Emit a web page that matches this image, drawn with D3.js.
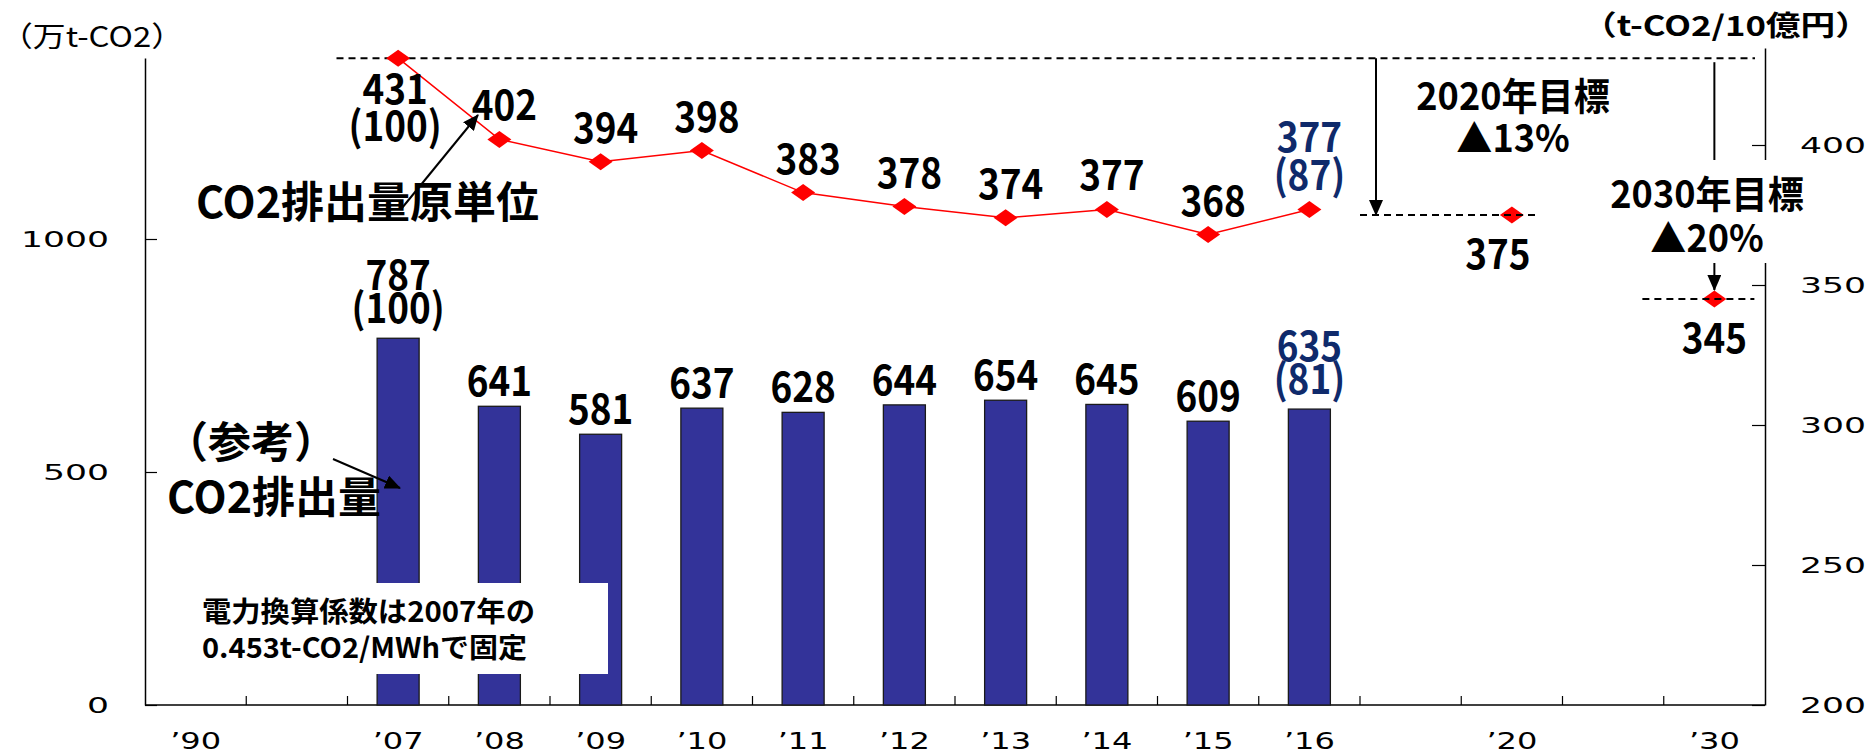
<!DOCTYPE html>
<html>
<head>
<meta charset="utf-8">
<script src="https://cdn.jsdelivr.net/npm/d3@7"></script>
<style>
  body { margin: 0; background: #fff; }
  svg { display: block; }
</style>
</head>
<body>
<div id="chart"></div>
<script>
// categories on the x axis (empty slots keep the gaps)
var years = ["1990", "gapA", "2007", "2008", "2009", "2010", "2011", "2012", "2013", "2014", "2015", "2016", "gapB", "2020", "gapC", "2030"];
var yearLabels = ["’90", "", "’07", "’08", "’09", "’10", "’11", "’12", "’13", "’14", "’15", "’16", "", "’20", "", "’30"];

// CO2 emissions (万t-CO2), bars
var emissionYears = ["2007", "2008", "2009", "2010", "2011", "2012", "2013", "2014", "2015", "2016"];
var emissions = [787, 641, 581, 637, 628, 644, 654, 645, 609, 635];

// CO2 intensity (t-CO2/10億円), line
var intensity = [431, 402, 394, 398, 383, 378, 374, 377, 368, 377];

// index values (2007 = 100)
var indexYears = ["2007", "2016"];
var emissionIndex = [100, 81];
var intensityIndex = [100, 87];

// targets
var targetYears = ["2020", "2030"];
var targets = [375, 345];
var targetNames = ["2020年目標", "2030年目標"];
var targetCuts = ["▲13%", "▲20%"];

var leftTicks = [0, 500, 1000];
var rightTicks = [200, 250, 300, 350, 400];

var width = 1872, height = 755;
var jp = "'Noto Sans CJK JP', sans-serif";
var barColor = "#333399", lineColor = "#ff0000", navy = "#0f2a6b";

var svg = d3.select("#chart")
  .append("svg")
    .attr("width", width)
    .attr("height", height);

var defs = svg.append("defs");
defs.append("marker")
    .attr("id", "head")
    .attr("markerUnits", "userSpaceOnUse")
    .attr("viewBox", "0 0 16 14")
    .attr("markerWidth", 16)
    .attr("markerHeight", 14)
    .attr("refX", 15)
    .attr("refY", 7)
    .attr("orient", "auto")
  .append("path")
    .attr("d", "M0,0L16,7L0,14Z")
    .attr("fill", "#000");

// scales
var x = d3.scaleBand().domain(years).range([145, 1765]);
var cx = function(d) { return x(d) + x.bandwidth() / 2; };

var yLeft = d3.scaleLinear().domain([0, 1000]).range([705, 239]);
yLeft.domain([0, yLeft.invert(58)]).range([705, 58]);

var yRight = d3.scaleLinear().domain([200, 400]).range([705, 145]);
yRight.domain([200, yRight.invert(48)]).range([705, 48]);

// left axis
var gLeft = svg.append("g")
    .attr("transform", "translate(145,0)")
    .call(d3.axisLeft(yLeft).tickValues(leftTicks).tickFormat(d3.format("d"))
      .tickSizeInner(-12).tickSizeOuter(0).tickPadding(36));
// right axis
var gRight = svg.append("g")
    .attr("transform", "translate(1765,0)")
    .call(d3.axisRight(yRight).tickValues(rightTicks).tickFormat(d3.format("d"))
      .tickSizeInner(-13).tickSizeOuter(0).tickPadding(35));

[gLeft, gRight].forEach(function(g) {
  g.select(".domain").attr("stroke", "#000").attr("stroke-width", 1.5);
  g.selectAll(".tick line").attr("stroke", "#000").attr("stroke-width", 1.2);
  g.selectAll(".tick text")
    .attr("fill", "#000")
    .attr("font-family", "'DejaVu Sans', sans-serif")
    .attr("font-size", 21)
    .attr("dy", "0.36em")
    .attr("textLength", function(d) { return String(d).length * 22; })
    .attr("lengthAdjust", "spacingAndGlyphs");
});

// x axis
var gx = svg.append("g");
gx.append("line")
    .attr("x1", 145).attr("x2", 1765)
    .attr("y1", 705).attr("y2", 705)
    .attr("stroke", "#000").attr("stroke-width", 1.5);
gx.selectAll(".xtick")
  .data(years.slice(1))
  .enter()
  .append("line")
    .attr("class", "xtick")
    .attr("x1", function(d) { return x(d); })
    .attr("x2", function(d) { return x(d); })
    .attr("y1", 705).attr("y2", 696)
    .attr("stroke", "#000").attr("stroke-width", 1.2);
gx.selectAll(".xlab")
  .data(years.filter(function(d, i) { return yearLabels[i] != ""; }))
  .enter()
  .append("text")
    .attr("class", "xlab")
    .attr("x", function(d) { return cx(d); })
    .attr("y", 749)
    .attr("text-anchor", "middle")
    .attr("font-family", "'DejaVu Sans', sans-serif")
    .attr("font-size", 23)
    .attr("textLength", 51)
    .attr("lengthAdjust", "spacingAndGlyphs")
    .text(function(d) { return yearLabels[years.indexOf(d)]; });

// bars
var barW = 42;
svg.selectAll(".bar")
  .data(emissionYears)
  .enter()
  .append("rect")
    .attr("class", "bar")
    .attr("x", function(d) { return cx(d) - barW / 2; })
    .attr("y", function(d, i) { return yLeft(emissions[i]); })
    .attr("width", barW)
    .attr("height", function(d, i) { return 705 - yLeft(emissions[i]); })
    .attr("fill", barColor)
    .attr("stroke", "#1a1a1a")
    .attr("stroke-width", 1.3);

// helper for the condensed bold labels, one text element (extra lines as tspans)
function label(lines, px, py, size, color, sx, gap) {
  var t = svg.append("text")
    .attr("transform", "translate(" + px + "," + py + ") scale(" + (sx || 0.9) + ",1)")
    .attr("text-anchor", "middle")
    .attr("font-family", jp)
    .attr("font-weight", "bold")
    .attr("font-size", size)
    .attr("fill", color || "#000");
  [].concat(lines).forEach(function(s, j) {
    t.append("tspan")
      .attr("x", 0)
      .attr("dy", j == 0 ? 0 : (gap || 34))
      .text(s);
  });
  return t;
}

// bar labels
emissionYears.forEach(function(d, i) {
  var top = yLeft(emissions[i]);
  var k = indexYears.indexOf(d);
  if (k < 0) {
    label(emissions[i], cx(d), top - 10, 41);
  } else {
    label([emissions[i], "(" + emissionIndex[k] + ")"], cx(d), top - 48, 41, k == 1 ? navy : "#000", 0.9, 33);
  }
});

// white note box over the first bars
svg.append("rect")
    .attr("x", 190).attr("y", 583)
    .attr("width", 418).attr("height", 91)
    .attr("fill", "#fff");
svg.append("text")
    .attr("x", 202).attr("y", 622)
    .attr("font-family", jp).attr("font-weight", "bold").attr("font-size", 28)
    .attr("textLength", 333).attr("lengthAdjust", "spacingAndGlyphs")
    .text("電力換算係数は2007年の");
svg.append("text")
    .attr("x", 202).attr("y", 658)
    .attr("font-family", jp).attr("font-weight", "bold").attr("font-size", 28)
    .attr("textLength", 325).attr("lengthAdjust", "spacingAndGlyphs")
    .text("0.453t-CO2/MWhで固定");

// reference dashed line at the 2007 level
svg.append("line")
    .attr("x1", x("2007") - 11).attr("x2", 1755)
    .attr("y1", yRight(intensity[0])).attr("y2", yRight(intensity[0]))
    .attr("stroke", "#000").attr("stroke-width", 2)
    .attr("stroke-dasharray", "7,5");

// intensity line
var line = d3.line()
    .x(function(d, i) { return cx(emissionYears[i]); })
    .y(function(d) { return yRight(d); });
svg.append("path")
    .datum(intensity)
    .attr("d", line)
    .attr("fill", "none")
    .attr("stroke", lineColor)
    .attr("stroke-width", 1.5);

var diamond = function(px, py) {
  return "M" + (px - 12) + "," + py + "L" + px + "," + (py - 8.5) + "L" + (px + 12) + "," + py + "L" + px + "," + (py + 8.5) + "Z";
};
svg.selectAll(".dot")
  .data(intensity)
  .enter()
  .append("path")
    .attr("class", "dot")
    .attr("d", function(d, i) { return diamond(cx(emissionYears[i]), yRight(d)); })
    .attr("fill", lineColor);

// line labels
emissionYears.forEach(function(d, i) {
  var py = yRight(intensity[i]);
  var k = indexYears.indexOf(d);
  if (k == 0) {
    label([intensity[i], "(" + intensityIndex[k] + ")"], cx(d) - 3, py + 46, 41, "#000", 0.9, 37);
  } else if (k == 1) {
    label([intensity[i], "(" + intensityIndex[k] + ")"], cx(d), py - 57, 41, navy, 0.9, 38);
  } else {
    label(intensity[i], cx(d) + 5, py - 19, 41);
  }
});

// targets
var dashSpan = [[x("gapB"), cx("2020") + 24], [cx("2030") - 72, cx("2030") + 40]];
targetYears.forEach(function(d, i) {
  var py = yRight(targets[i]);
  svg.append("path")
      .attr("d", diamond(cx(d), py))
      .attr("fill", lineColor);
  svg.append("line")
      .attr("x1", dashSpan[i][0]).attr("x2", dashSpan[i][1])
      .attr("y1", py).attr("y2", py)
      .attr("stroke", "#000").attr("stroke-width", 2)
      .attr("stroke-dasharray", "7,5");
  label(targets[i], cx(d) - (i == 0 ? 14 : 0), py + 54, 41);
});

// 2020 target arrow and text
svg.append("line")
    .attr("x1", x("gapB") + 16).attr("x2", x("gapB") + 16)
    .attr("y1", yRight(intensity[0])).attr("y2", yRight(targets[0]))
    .attr("stroke", "#000").attr("stroke-width", 2)
    .attr("marker-end", "url(#head)");
label([targetNames[0], targetCuts[0]], 1513, 110, 38, "#000", 0.95, 42);

// 2030 target arrow and text (the text box hides the right axis)
svg.append("line")
    .attr("x1", cx("2030")).attr("x2", cx("2030"))
    .attr("y1", yRight(intensity[0]) + 4).attr("y2", 160)
    .attr("stroke", "#000").attr("stroke-width", 2);
svg.append("rect")
    .attr("x", 1600).attr("y", 160)
    .attr("width", 215).attr("height", 103)
    .attr("fill", "#fff");
label([targetNames[1], targetCuts[1]], 1707, 208, 38, "#000", 0.95, 44);
svg.append("line")
    .attr("x1", cx("2030")).attr("x2", cx("2030"))
    .attr("y1", 263).attr("y2", yRight(targets[1]) - 9)
    .attr("stroke", "#000").attr("stroke-width", 2)
    .attr("marker-end", "url(#head)");

// series names
svg.append("text")
    .attr("x", 196).attr("y", 218)
    .attr("font-family", jp).attr("font-weight", "bold").attr("font-size", 43)
    .text("CO2排出量原単位");
svg.append("line")
    .attr("x1", 402).attr("y1", 208)
    .attr("x2", 478).attr("y2", 115)
    .attr("stroke", "#000").attr("stroke-width", 2)
    .attr("marker-end", "url(#head)");

svg.append("text")
    .attr("x", 251).attr("y", 458)
    .attr("text-anchor", "middle")
    .attr("font-family", jp).attr("font-weight", "bold").attr("font-size", 43)
    .text("（参考）");
svg.append("text")
    .attr("x", 167).attr("y", 513)
    .attr("font-family", jp).attr("font-weight", "bold").attr("font-size", 43)
    .text("CO2排出量");
svg.append("line")
    .attr("x1", 333).attr("y1", 459)
    .attr("x2", 400).attr("y2", 488)
    .attr("stroke", "#000").attr("stroke-width", 2)
    .attr("marker-end", "url(#head)");

// axis titles
svg.append("text")
    .attr("x", 0).attr("y", 47)
    .attr("font-family", jp).attr("font-size", 28)
    .attr("textLength", 184).attr("lengthAdjust", "spacingAndGlyphs")
    .text("（万t-CO2）");
svg.append("text")
    .attr("x", 1582).attr("y", 36)
    .attr("font-family", jp).attr("font-weight", "bold").attr("font-size", 28)
    .attr("textLength", 288).attr("lengthAdjust", "spacingAndGlyphs")
    .text("（t-CO2/10億円）");
</script>
</body>
</html>
